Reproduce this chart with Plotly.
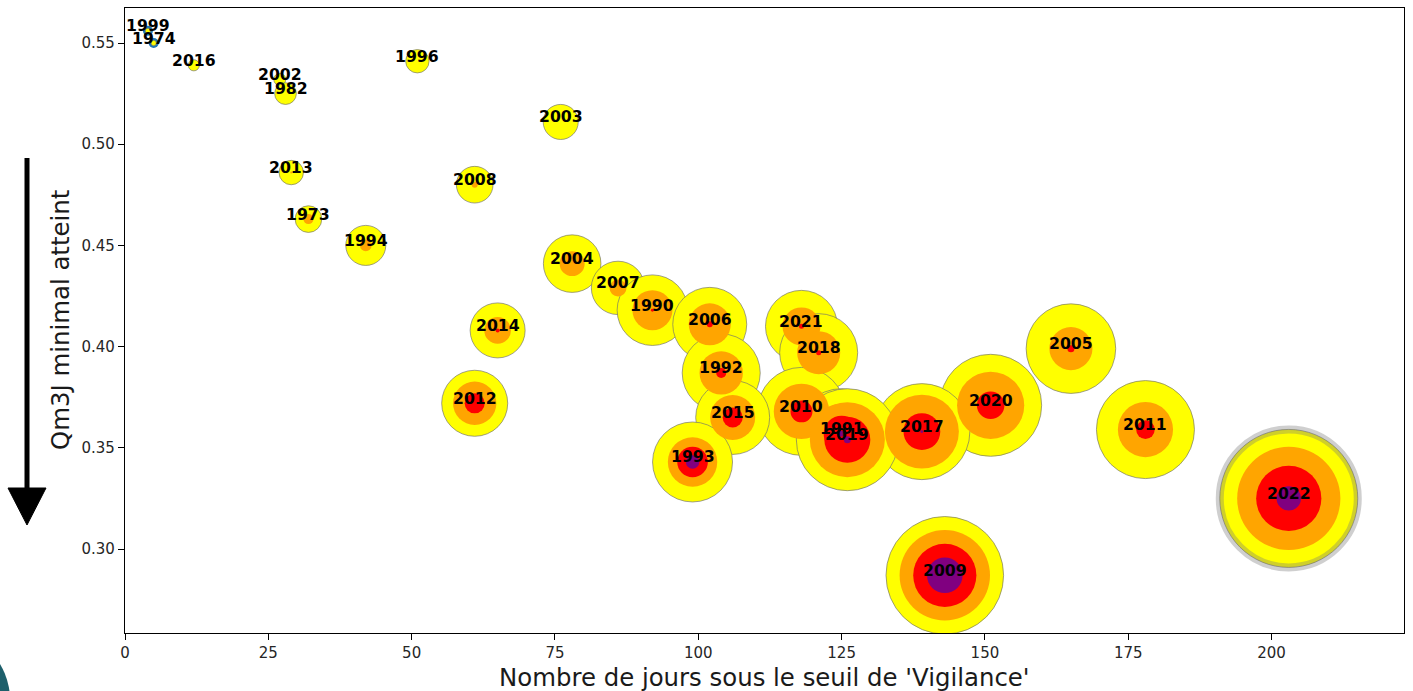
import numpy as np
import plotly.graph_objects as go

# ---- data ----
annees = [1999, 1974, 2016, 2002, 1982, 1996, 2003, 2013, 2008, 1973, 1994,
          2004, 2007, 1990, 2014, 2006, 2021, 2018, 2005, 1992, 2012, 2010,
          2015, 2020, 2011, 2017, 1991, 2019, 1993, 2022, 2009]
jours_sous_vigilance = [4, 5, 12, 27, 28, 51, 76, 29, 61, 32, 42,
                        78, 86, 92, 65, 102, 118, 121, 165, 104, 61, 118,
                        106, 151, 178, 139, 125, 126, 99, 203, 143]
qm3j_minimal = [0.556, 0.550, 0.539, 0.532, 0.525, 0.541, 0.511, 0.486, 0.480, 0.463, 0.450,
                0.441, 0.429, 0.418, 0.408, 0.411, 0.410, 0.397, 0.399, 0.387, 0.372, 0.368,
                0.365, 0.371, 0.359, 0.358, 0.357, 0.354, 0.343, 0.325, 0.287]
# bubble-size indicators per restriction level (area-proportional)
niveau_vigilance = [0.3, 0.3, 1.3, 1.5, 4.9, 5.7, 12.8, 6.2, 14.0, 7.4, 16.7,
                    34.5, 29.7, 51.9, 31.5, 57.0, 54.0, 63.4, 83.6, 63.4, 45.4, 80.6,
                    57.0, 108.3, 100.0, 96.0, 84.3, 108.3, 66.6, 198.3, 144.0]
niveau_alerte = [0, 0, 0, 0, 0, 0, 0, 0.04, 0.37, 1.04, 1.4,
                 6.5, 3.0, 16.7, 7.4, 18.4, 15.0, 19.3, 19.3, 19.6, 19.6, 32.0,
                 21.1, 47.0, 31.7, 57.0, 37.5, 58.6, 25.4, 111.0, 85.1]
niveau_alerte_renforcee = [0, 0, 0, 0, 0, 0, 0, 0, 0, 0, 0,
                           0, 0, 0.09, 0.17, 0.37, 0.26, 0.26, 0.51, 1.04, 4.2, 5.0,
                           4.2, 7.9, 3.6, 14.1, 13.5, 22.0, 9.75, 44.3, 41.6]
niveau_crise = [0, 0, 0, 0, 0, 0, 0, 0, 0, 0, 0,
                0, 0, 0, 0, 0, 0, 0, 0, 0, 0, 0,
                0, 0, 0, 0.09, 0.37, 0.51, 1.87, 6.2, 13.2]
annee_en_cours = [2022]

x_ticks = [0, 25, 50, 75, 100, 125, 150, 175, 200]
y_ticks = [0.30, 0.35, 0.40, 0.45, 0.50, 0.55]
x_titre = "Nombre de jours sous le seuil de 'Vigilance'"
y_titre = "Qm3J minimal atteint"

# ---- figure ----
W, H = 1413, 691
ML, MR, MT, MB = 125, 9, 8, 58
K = 9.8  # px diameter per sqrt(unit)


def diam(vals):
    return [K * np.sqrt(v) for v in vals]


fig = go.Figure()

# base default-coloured points
fig.add_trace(go.Scatter(x=jours_sous_vigilance, y=qm3j_minimal, mode="markers",
                         marker=dict(size=10, color="#1f77b4", line=dict(width=0)),
                         hoverinfo="skip", showlegend=False))

layers = [
    (niveau_vigilance, "#ffff00", dict(width=1, color="rgba(110,110,110,0.65)")),
    (niveau_alerte, "#ffa500", dict(width=0)),
    (niveau_alerte_renforcee, "#ff0000", dict(width=0)),
    (niveau_crise, "#800080", dict(width=0)),
]
for i, (vals, col, line) in enumerate(layers):
    fig.add_trace(go.Scatter(x=jours_sous_vigilance, y=qm3j_minimal, mode="markers",
                             marker=dict(size=diam(vals), color=col, line=line, opacity=1),
                             hoverinfo="skip", showlegend=False))
    if i == 0:
        idx = [annees.index(a) for a in annee_en_cours]
        fig.add_trace(go.Scatter(
            x=[jours_sous_vigilance[j] for j in idx],
            y=[qm3j_minimal[j] for j in idx], mode="markers",
            marker=dict(size=diam([niveau_vigilance[j] for j in idx]),
                        color="rgba(0,0,0,0)",
                        line=dict(width=8, color="rgba(120,120,120,0.5)")),
            hoverinfo="skip", showlegend=False))

annotations = []
for a, xv, yv in zip(annees, jours_sous_vigilance, qm3j_minimal):
    annotations.append(dict(x=xv, y=yv, xref="x", yref="y", text=str(a), showarrow=False,
                            xanchor="center", yanchor="middle", yshift=5,
                            font=dict(family="DejaVu Sans", size=15.7, color="black", weight="bold")))

plot_w = W - ML - MR
plot_h = H - MT - MB


def px2paper(px, py):
    return (px - ML) / plot_w, (H - MB - py) / plot_h


annotations.append(dict(x=0.5, y=px2paper(0, 677)[1], xref="paper", yref="paper", text=x_titre,
                        showarrow=False, xanchor="center", yanchor="middle",
                        font=dict(family="DejaVu Sans", size=24.4, color="#1a1a1a")))
annotations.append(dict(x=px2paper(60, 0)[0], y=px2paper(0, 320)[1], xref="paper", yref="paper",
                        text=y_titre, showarrow=False, textangle=-90, xanchor="center",
                        yanchor="middle", font=dict(family="DejaVu Sans", size=24.4, color="#1a1a1a")))

shapes = []
sx0, sy0 = px2paper(27, 158)
sx1, sy1 = px2paper(27, 492)
shapes.append(dict(type="line", xref="paper", yref="paper", x0=sx0, y0=sy0, x1=sx1, y1=sy1,
                   line=dict(color="black", width=5)))
p1 = px2paper(8, 488)
p2 = px2paper(46, 488)
p3 = px2paper(27, 525)
shapes.append(dict(type="path", xref="paper", yref="paper",
                   path=f"M {p1[0]} {p1[1]} L {p2[0]} {p2[1]} L {p3[0]} {p3[1]} Z",
                   fillcolor="black", line=dict(color="black", width=1)))
c0 = px2paper(-130, 630)
c1 = px2paper(10, 770)
shapes.append(dict(type="circle", xref="paper", yref="paper", x0=c0[0], y0=c0[1], x1=c1[0], y1=c1[1],
                   fillcolor="#1d5f6b", line=dict(width=0), layer="above"))

axis_common = dict(showline=True, mirror=True, linecolor="black", linewidth=1.3,
                   ticks="outside", ticklen=6, tickwidth=1.2, tickcolor="black",
                   showgrid=False, zeroline=False, automargin=False,
                   tickfont=dict(family="DejaVu Sans", size=15, color="#262626"))

fig.update_layout(
    width=W, height=H,
    margin=dict(l=ML, r=MR, t=MT, b=MB, pad=0),
    paper_bgcolor="white", plot_bgcolor="white",
    xaxis=dict(range=[0, 223.1], tickvals=x_ticks, ticktext=[str(v) for v in x_ticks], **axis_common),
    yaxis=dict(range=[0.2585, 0.5673], tickvals=y_ticks, ticktext=[f"{v:.2f}" for v in y_ticks], **axis_common),
    annotations=annotations,
    shapes=shapes,
    showlegend=False,
)

fig.write_html("out.html", config={"displayModeBar": False},
               post_script="document.body.style.margin='0px';document.body.style.overflow='hidden';")
